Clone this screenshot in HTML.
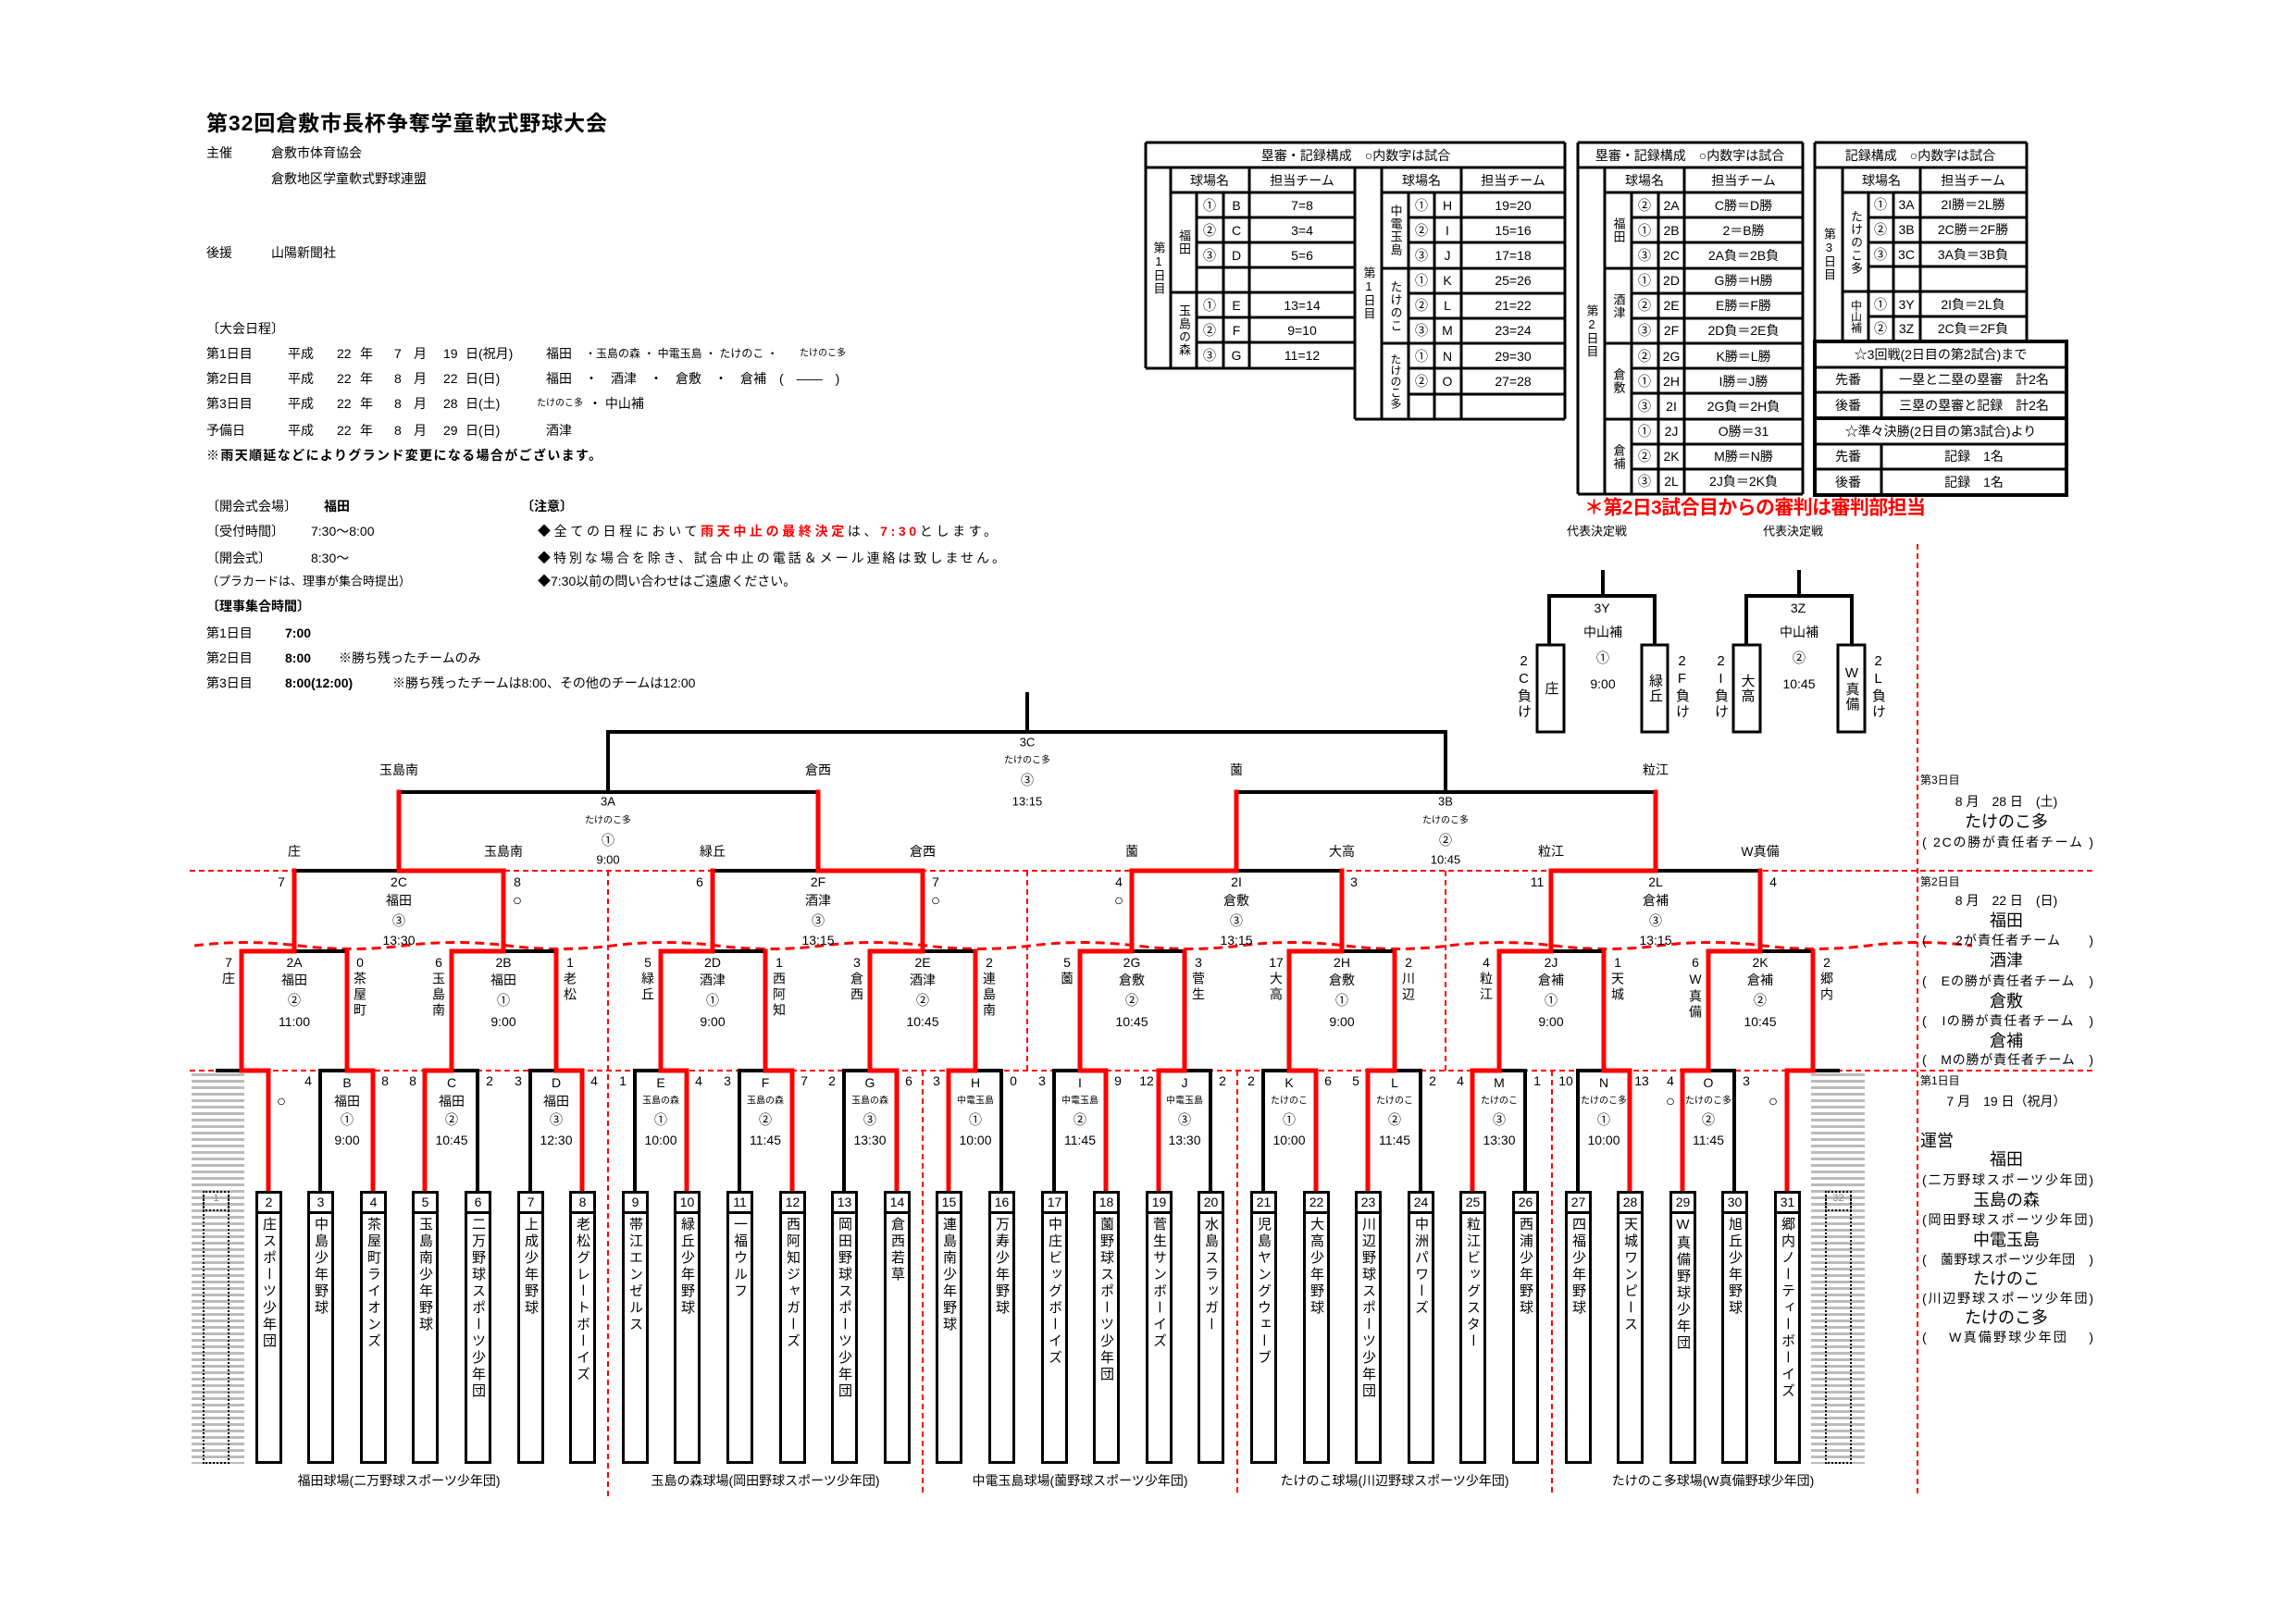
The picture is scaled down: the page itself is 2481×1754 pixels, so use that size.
<!DOCTYPE html>
<html><head><meta charset="utf-8">
<style>
body{margin:0;background:#fff;}
#w{position:relative;width:2481px;height:1754px;overflow:hidden;font-family:"Liberation Sans","Noto Sans CJK JP",sans-serif;color:#000;}
svg{position:absolute;left:0;top:0;}
svg text{font-family:"Liberation Sans","Noto Sans CJK JP",sans-serif;dominant-baseline:central;font-size:14px;}
.m{text-anchor:middle;}
.s10{font-size:10px;}.s12{font-size:12px;}.s13{font-size:13px;}.s15{font-size:17px;}.s17{font-size:18px;}
.b{font-weight:bold;}
.r{fill:#f00;}
.tb{position:absolute;top:1287px;width:29px;height:295px;border:3px solid #000;box-sizing:border-box;background:#fff;}
.tb b{display:block;height:19px;border-bottom:3px solid #000;font-size:14px;line-height:19px;text-align:center;font-weight:normal;}
.tb i{display:block;font-style:normal;writing-mode:vertical-rl;text-orientation:upright;font-size:15px;line-height:23px;letter-spacing:3px;margin:3px auto 0;}
.vl{position:absolute;writing-mode:vertical-rl;text-orientation:upright;font-size:14px;line-height:18px;letter-spacing:3px;}
.vc{position:absolute;display:flex;align-items:center;justify-content:center;}
.vc span{writing-mode:vertical-rl;text-orientation:upright;font-size:13px;line-height:14px;letter-spacing:1px;}
.gc{position:absolute;top:1160px;height:422px;background:repeating-linear-gradient(#bbb 0 3px,#fff 3px 7px);}
.gd{position:absolute;border:2px dotted #000;box-sizing:border-box;}
</style></head><body><div id="w">
<svg width="2481" height="1754" viewBox="0 0 2481 1754">
<text x="223" y="133" class="b" style="font-size:23px" textLength="433">第32回倉敷市長杯争奪学童軟式野球大会</text>
<text x="223" y="165">主催</text><text x="293" y="165">倉敷市体育協会</text>
<text x="293" y="193">倉敷地区学童軟式野球連盟</text>
<text x="223" y="273">後援</text><text x="293" y="273">山陽新聞社</text>
<text x="223" y="355">〔大会日程〕</text>
<g>
<text x="223" y="382">第1日目</text><text x="311" y="382">平成</text><text x="364" y="382">22</text><text x="389" y="382">年</text><text x="426" y="382">7</text><text x="447" y="382">月</text><text x="479" y="382">19</text><text x="503" y="382">日</text><text x="517" y="382">(祝月)</text>
<text x="590" y="382">福田</text><text x="632" y="382" class="s12">・玉島の森 ・ 中電玉島 ・ たけのこ ・</text><text x="864" y="382" class="s10">たけのこ多</text>
<text x="223" y="409">第2日目</text><text x="311" y="409">平成</text><text x="364" y="409">22</text><text x="389" y="409">年</text><text x="426" y="409">8</text><text x="447" y="409">月</text><text x="479" y="409">22</text><text x="503" y="409">日</text><text x="517" y="409">(日)</text>
<text x="590" y="409">福田　・　酒津　・　倉敷　・　倉補　(　――　)</text>
<text x="223" y="436">第3日目</text><text x="311" y="436">平成</text><text x="364" y="436">22</text><text x="389" y="436">年</text><text x="426" y="436">8</text><text x="447" y="436">月</text><text x="479" y="436">28</text><text x="503" y="436">日</text><text x="517" y="436">(土)</text>
<text x="580" y="436" class="s10">たけのこ多</text><text x="636" y="436">・ 中山補</text>
<text x="223" y="465">予備日</text><text x="311" y="465">平成</text><text x="364" y="465">22</text><text x="389" y="465">年</text><text x="426" y="465">8</text><text x="447" y="465">月</text><text x="479" y="465">29</text><text x="503" y="465">日</text><text x="517" y="465">(日)</text>
<text x="590" y="465">酒津</text>
<text x="223" y="492" class="b" textLength="427">※雨天順延などによりグランド変更になる場合がございます。</text>
</g>
<text x="223" y="547">〔開会式会場〕</text><text x="350" y="547" class="b">福田</text>
<text x="563" y="547" class="b">〔注意〕</text>
<text x="223" y="574">〔受付時間〕</text><text x="336" y="574">7:30〜8:00</text>
<text x="581" y="574" textLength="496">◆全ての日程において<tspan class="r b">雨天中止の最終決定</tspan>は、<tspan class="r b">7:30</tspan>とします。</text>
<text x="223" y="603">〔開会式〕</text><text x="336" y="603">8:30〜</text>
<text x="581" y="603" textLength="505">◆特別な場合を除き、試合中止の電話＆メール連絡は致しません。</text>
<text x="223" y="628" class="s13">（プラカードは、理事が集合時提出）</text>
<text x="581" y="628">◆7:30以前の問い合わせはご遠慮ください。</text>
<text x="223" y="655" class="b">〔理事集合時間〕</text>
<text x="223" y="684">第1日目</text><text x="308" y="684" class="b">7:00</text>
<text x="223" y="711">第2日目</text><text x="308" y="711" class="b">8:00</text><text x="366" y="711">※勝ち残ったチームのみ</text>
<text x="223" y="738">第3日目</text><text x="308" y="738" class="b">8:00(12:00)</text><text x="424" y="738">※勝ち残ったチームは8:00、その他のチームは12:00</text>

<g stroke="#000" stroke-width="3" fill="none">
<line x1="1238" y1="154" x2="1691" y2="154"/><line x1="1238" y1="181" x2="1691" y2="181"/>
<line x1="1265" y1="208" x2="1464" y2="208"/><line x1="1493" y1="208" x2="1691" y2="208"/>
<line x1="1293" y1="235" x2="1464" y2="235"/><line x1="1293" y1="262" x2="1464" y2="262"/><line x1="1293" y1="289" x2="1464" y2="289"/>
<line x1="1265" y1="316" x2="1464" y2="316"/><line x1="1293" y1="343" x2="1464" y2="343"/><line x1="1293" y1="370" x2="1464" y2="370"/>
<line x1="1238" y1="398" x2="1464" y2="398"/>
<line x1="1522" y1="235" x2="1691" y2="235"/><line x1="1522" y1="262" x2="1691" y2="262"/><line x1="1493" y1="290" x2="1691" y2="290"/>
<line x1="1522" y1="317" x2="1691" y2="317"/><line x1="1522" y1="344" x2="1691" y2="344"/><line x1="1493" y1="371" x2="1691" y2="371"/>
<line x1="1522" y1="398" x2="1691" y2="398"/><line x1="1522" y1="426" x2="1691" y2="426"/><line x1="1464" y1="453" x2="1691" y2="453"/>
<line x1="1238" y1="154" x2="1238" y2="398"/><line x1="1265" y1="181" x2="1265" y2="398"/><line x1="1293" y1="208" x2="1293" y2="398"/><line x1="1322" y1="208" x2="1322" y2="398"/><line x1="1350" y1="181" x2="1350" y2="398"/>
<line x1="1464" y1="181" x2="1464" y2="453"/><line x1="1493" y1="181" x2="1493" y2="453"/><line x1="1522" y1="208" x2="1522" y2="453"/><line x1="1550" y1="208" x2="1550" y2="453"/><line x1="1579" y1="181" x2="1579" y2="453"/><line x1="1691" y1="154" x2="1691" y2="453"/>
<line x1="1705" y1="154" x2="1948" y2="154"/><line x1="1705" y1="181" x2="1948" y2="181"/><line x1="1734" y1="208" x2="1948" y2="208"/>
<line x1="1763" y1="235" x2="1948" y2="235"/><line x1="1763" y1="262" x2="1948" y2="262"/><line x1="1734" y1="290" x2="1948" y2="290"/>
<line x1="1763" y1="317" x2="1948" y2="317"/><line x1="1763" y1="344" x2="1948" y2="344"/><line x1="1734" y1="371" x2="1948" y2="371"/>
<line x1="1763" y1="398" x2="1948" y2="398"/><line x1="1763" y1="425" x2="1948" y2="425"/><line x1="1734" y1="453" x2="1948" y2="453"/>
<line x1="1763" y1="480" x2="1948" y2="480"/><line x1="1763" y1="507" x2="1948" y2="507"/><line x1="1705" y1="534" x2="1948" y2="534"/>
<line x1="1705" y1="154" x2="1705" y2="534"/><line x1="1734" y1="181" x2="1734" y2="534"/><line x1="1763" y1="208" x2="1763" y2="534"/><line x1="1792" y1="208" x2="1792" y2="534"/><line x1="1820" y1="181" x2="1820" y2="534"/><line x1="1948" y1="154" x2="1948" y2="534"/>
<line x1="1961" y1="154" x2="2190" y2="154"/><line x1="1961" y1="181" x2="2190" y2="181"/><line x1="1991" y1="208" x2="2190" y2="208"/>
<line x1="2019" y1="235" x2="2190" y2="235"/><line x1="2019" y1="262" x2="2190" y2="262"/><line x1="2019" y1="288" x2="2190" y2="288"/>
<line x1="1991" y1="315" x2="2190" y2="315"/><line x1="2019" y1="342" x2="2190" y2="342"/>
<line x1="1961" y1="154" x2="1961" y2="369"/><line x1="1991" y1="181" x2="1991" y2="369"/><line x1="2019" y1="208" x2="2019" y2="369"/><line x1="2046" y1="208" x2="2046" y2="369"/><line x1="2075" y1="181" x2="2075" y2="369"/><line x1="2190" y1="154" x2="2190" y2="369"/>
<rect x="1961" y="369" width="272" height="166" stroke-width="4"/>
<line x1="1961" y1="397" x2="2233" y2="397"/><line x1="1961" y1="424" x2="2233" y2="424"/><line x1="1961" y1="452" x2="2233" y2="452" stroke-width="4"/>
<line x1="1961" y1="480" x2="2233" y2="480"/><line x1="1961" y1="507" x2="2233" y2="507"/>
<line x1="2033" y1="397" x2="2033" y2="452"/><line x1="2033" y1="480" x2="2033" y2="535"/>
</g>
<g class="s13">
<text x="1465" y="168" class="m">塁審・記録構成　○内数字は試合</text>
<text x="1307" y="195" class="m">球場名</text><text x="1407" y="195" class="m">担当チーム</text>
<text x="1536" y="195" class="m">球場名</text><text x="1635" y="195" class="m">担当チーム</text>
<text x="1307" y="222" class="m">①</text><text x="1336" y="222" class="m">B</text><text x="1407" y="222" class="m">7=8</text>
<text x="1307" y="249" class="m">②</text><text x="1336" y="249" class="m">C</text><text x="1407" y="249" class="m">3=4</text>
<text x="1307" y="276" class="m">③</text><text x="1336" y="276" class="m">D</text><text x="1407" y="276" class="m">5=6</text>
<text x="1307" y="330" class="m">①</text><text x="1336" y="330" class="m">E</text><text x="1407" y="330" class="m">13=14</text>
<text x="1307" y="357" class="m">②</text><text x="1336" y="357" class="m">F</text><text x="1407" y="357" class="m">9=10</text>
<text x="1307" y="384" class="m">③</text><text x="1336" y="384" class="m">G</text><text x="1407" y="384" class="m">11=12</text>
<text x="1536" y="222" class="m">①</text><text x="1564" y="222" class="m">H</text><text x="1635" y="222" class="m">19=20</text>
<text x="1536" y="249" class="m">②</text><text x="1564" y="249" class="m">I</text><text x="1635" y="249" class="m">15=16</text>
<text x="1536" y="276" class="m">③</text><text x="1564" y="276" class="m">J</text><text x="1635" y="276" class="m">17=18</text>
<text x="1536" y="303" class="m">①</text><text x="1564" y="303" class="m">K</text><text x="1635" y="303" class="m">25=26</text>
<text x="1536" y="330" class="m">②</text><text x="1564" y="330" class="m">L</text><text x="1635" y="330" class="m">21=22</text>
<text x="1536" y="357" class="m">③</text><text x="1564" y="357" class="m">M</text><text x="1635" y="357" class="m">23=24</text>
<text x="1536" y="385" class="m">①</text><text x="1564" y="385" class="m">N</text><text x="1635" y="385" class="m">29=30</text>
<text x="1536" y="412" class="m">②</text><text x="1564" y="412" class="m">O</text><text x="1635" y="412" class="m">27=28</text>

<text x="1826" y="168" class="m">塁審・記録構成　○内数字は試合</text>
<text x="1777" y="195" class="m">球場名</text><text x="1884" y="195" class="m">担当チーム</text>
<text x="1777" y="222" class="m">②</text><text x="1806" y="222" class="m">2A</text><text x="1884" y="222" class="m">C勝＝D勝</text>
<text x="1777" y="249" class="m">①</text><text x="1806" y="249" class="m">2B</text><text x="1884" y="249" class="m">2＝B勝</text>
<text x="1777" y="276" class="m">③</text><text x="1806" y="276" class="m">2C</text><text x="1884" y="276" class="m">2A負＝2B負</text>
<text x="1777" y="303" class="m">①</text><text x="1806" y="303" class="m">2D</text><text x="1884" y="303" class="m">G勝＝H勝</text>
<text x="1777" y="330" class="m">②</text><text x="1806" y="330" class="m">2E</text><text x="1884" y="330" class="m">E勝＝F勝</text>
<text x="1777" y="357" class="m">③</text><text x="1806" y="357" class="m">2F</text><text x="1884" y="357" class="m">2D負＝2E負</text>
<text x="1777" y="385" class="m">②</text><text x="1806" y="385" class="m">2G</text><text x="1884" y="385" class="m">K勝＝L勝</text>
<text x="1777" y="412" class="m">①</text><text x="1806" y="412" class="m">2H</text><text x="1884" y="412" class="m">I勝＝J勝</text>
<text x="1777" y="439" class="m">③</text><text x="1806" y="439" class="m">2I</text><text x="1884" y="439" class="m">2G負＝2H負</text>
<text x="1777" y="466" class="m">①</text><text x="1806" y="466" class="m">2J</text><text x="1884" y="466" class="m">O勝＝31</text>
<text x="1777" y="493" class="m">②</text><text x="1806" y="493" class="m">2K</text><text x="1884" y="493" class="m">M勝＝N勝</text>
<text x="1777" y="520" class="m">③</text><text x="1806" y="520" class="m">2L</text><text x="1884" y="520" class="m">2J負＝2K負</text>

<text x="2075" y="168" class="m">記録構成　○内数字は試合</text>
<text x="2033" y="195" class="m">球場名</text><text x="2132" y="195" class="m">担当チーム</text>
<text x="2032" y="221" class="m">①</text><text x="2060" y="221" class="m">3A</text><text x="2132" y="221" class="m">2I勝＝2L勝</text>
<text x="2032" y="248" class="m">②</text><text x="2060" y="248" class="m">3B</text><text x="2132" y="248" class="m">2C勝＝2F勝</text>
<text x="2032" y="275" class="m">③</text><text x="2060" y="275" class="m">3C</text><text x="2132" y="275" class="m">3A負＝3B負</text>
<text x="2032" y="329" class="m">①</text><text x="2060" y="329" class="m">3Y</text><text x="2132" y="329" class="m">2I負＝2L負</text>
<text x="2032" y="355" class="m">②</text><text x="2060" y="355" class="m">3Z</text><text x="2132" y="355" class="m">2C負＝2F負</text>
<text x="2097" y="383" class="m">☆3回戦(2日目の第2試合)まで</text>
<text x="1997" y="410" class="m">先番</text><text x="2133" y="410" class="m">一塁と二塁の塁審　計2名</text>
<text x="1997" y="438" class="m">後番</text><text x="2133" y="438" class="m">三塁の塁審と記録　計2名</text>
<text x="2097" y="466" class="m">☆準々決勝(2日目の第3試合)より</text>
<text x="1997" y="493" class="m">先番</text><text x="2133" y="493" class="m">記録　1名</text>
<text x="1997" y="521" class="m">後番</text><text x="2133" y="521" class="m">記録　1名</text>
</g>
<text x="1712" y="549" class="r b" style="font-size:21px" textLength="369">＊第2日3試合目からの審判は審判部担当</text>
<text x="1693" y="574" class="s13">代表決定戦</text><text x="1905" y="574" class="s13">代表決定戦</text>

<g stroke="#000" stroke-width="4" fill="none">
<line x1="1732" y1="616" x2="1732" y2="644"/><path d="M1674 697V644H1788V697"/>
<rect x="1661" y="697" width="29" height="94" stroke-width="3"/><rect x="1774" y="697" width="28" height="94" stroke-width="3"/>
<line x1="1944" y1="616" x2="1944" y2="644"/><path d="M1887 697V644H2001V697"/>
<rect x="1873" y="697" width="29" height="94" stroke-width="3"/><rect x="1986" y="697" width="29" height="94" stroke-width="3"/>
</g>
<g class="s13">
<text x="1731" y="657" class="m">3Y</text><text x="1732" y="683" class="m">中山補</text><text x="1732" y="711" class="m">①</text><text x="1732" y="739" class="m">9:00</text>
<text x="1943" y="657" class="m">3Z</text><text x="1944" y="683" class="m">中山補</text><text x="1944" y="711" class="m">②</text><text x="1944" y="739" class="m">10:45</text>
</g>

<g stroke="#f00" stroke-width="2" stroke-dasharray="6 4" fill="none">
<line x1="205" y1="941" x2="2265" y2="941"/><line x1="205" y1="1157" x2="2265" y2="1157"/>
<line x1="657" y1="941" x2="657" y2="1617"/><line x1="1110" y1="941" x2="1110" y2="1157"/><line x1="1562" y1="941" x2="1562" y2="1157"/>
<line x1="997" y1="1157" x2="997" y2="1617"/><line x1="1337" y1="1157" x2="1337" y2="1617"/><line x1="1677" y1="1157" x2="1677" y2="1617"/>
<line x1="2072" y1="588" x2="2072" y2="1617"/>
<path d="M210 1022 q56 -7 113 0 t113 0 t113 0 t113 0 t113 0 t113 0 t113 0 t113 0 t113 0 t113 0 t113 0 t113 0 t113 0 t113 0 t113 0 t113 0 t113 0" stroke-width="3" stroke-dasharray="10 6"/>
</g>

<g stroke="#000" stroke-width="4" fill="none" stroke-linecap="square">
<line x1="346" y1="1157" x2="346" y2="1287"/><line x1="516" y1="1157" x2="516" y2="1287"/><line x1="573" y1="1157" x2="573" y2="1287"/><line x1="686" y1="1157" x2="686" y2="1287"/><line x1="799" y1="1157" x2="799" y2="1287"/><line x1="912" y1="1157" x2="912" y2="1287"/><line x1="1082" y1="1157" x2="1082" y2="1287"/><line x1="1139" y1="1157" x2="1139" y2="1287"/><line x1="1308" y1="1157" x2="1308" y2="1287"/><line x1="1365" y1="1157" x2="1365" y2="1287"/><line x1="1535" y1="1157" x2="1535" y2="1287"/><line x1="1648" y1="1157" x2="1648" y2="1287"/><line x1="1705" y1="1157" x2="1705" y2="1287"/><line x1="1874" y1="1157" x2="1874" y2="1287"/>
<line x1="346" y1="1157" x2="375" y2="1157"/><line x1="488" y1="1157" x2="516" y2="1157"/><line x1="573" y1="1157" x2="601" y2="1157"/><line x1="686" y1="1157" x2="714" y2="1157"/><line x1="799" y1="1157" x2="827" y2="1157"/><line x1="912" y1="1157" x2="940" y2="1157"/><line x1="1054" y1="1157" x2="1082" y2="1157"/><line x1="1139" y1="1157" x2="1167" y2="1157"/><line x1="1280" y1="1157" x2="1308" y2="1157"/><line x1="1365" y1="1157" x2="1393" y2="1157"/><line x1="1507" y1="1157" x2="1535" y2="1157"/><line x1="1620" y1="1157" x2="1648" y2="1157"/><line x1="1705" y1="1157" x2="1733" y2="1157"/><line x1="1846" y1="1157" x2="1874" y2="1157"/><line x1="235" y1="1157" x2="261" y2="1157"/><line x1="1959" y1="1157" x2="1986" y2="1157"/>
<line x1="318" y1="1028" x2="375" y2="1028"/><line x1="544" y1="1028" x2="601" y2="1028"/><line x1="770" y1="1028" x2="827" y2="1028"/><line x1="997" y1="1028" x2="1054" y2="1028"/><line x1="1223" y1="1028" x2="1280" y2="1028"/><line x1="1450" y1="1028" x2="1507" y2="1028"/><line x1="1676" y1="1028" x2="1733" y2="1028"/><line x1="1902" y1="1028" x2="1959" y2="1028"/>
<line x1="318" y1="941" x2="431" y2="941"/><line x1="770" y1="941" x2="884" y2="941"/><line x1="1336" y1="941" x2="1450" y2="941"/><line x1="1789" y1="941" x2="1902" y2="941"/>
<line x1="431" y1="856" x2="884" y2="856"/><line x1="1336" y1="856" x2="1789" y2="856"/>
<path d="M657 856V791H1562V856"/><line x1="1110" y1="750" x2="1110" y2="791"/>
</g>
<g stroke="#f00" stroke-width="5" fill="none" stroke-linecap="square">
<line x1="290" y1="1157" x2="290" y2="1287"/><line x1="403" y1="1157" x2="403" y2="1287"/><line x1="459" y1="1157" x2="459" y2="1287"/><line x1="629" y1="1157" x2="629" y2="1287"/><line x1="742" y1="1157" x2="742" y2="1287"/><line x1="856" y1="1157" x2="856" y2="1287"/><line x1="969" y1="1157" x2="969" y2="1287"/><line x1="1025" y1="1157" x2="1025" y2="1287"/><line x1="1195" y1="1157" x2="1195" y2="1287"/><line x1="1252" y1="1157" x2="1252" y2="1287"/><line x1="1422" y1="1157" x2="1422" y2="1287"/><line x1="1478" y1="1157" x2="1478" y2="1287"/><line x1="1591" y1="1157" x2="1591" y2="1287"/><line x1="1761" y1="1157" x2="1761" y2="1287"/><line x1="1818" y1="1157" x2="1818" y2="1287"/><line x1="1931" y1="1157" x2="1931" y2="1287"/>
<path d="M261 1028V1157H290"/><path d="M375 1028V1157H403"/><path d="M488 1028V1157H459"/><path d="M601 1028V1157H629"/><path d="M714 1028V1157H742"/><path d="M827 1028V1157H856"/><path d="M940 1028V1157H969"/><path d="M1054 1028V1157H1025"/><path d="M1167 1028V1157H1195"/><path d="M1280 1028V1157H1252"/><path d="M1393 1028V1157H1422"/><path d="M1507 1028V1157H1478"/><path d="M1620 1028V1157H1591"/><path d="M1733 1028V1157H1761"/><path d="M1846 1028V1157H1818"/><path d="M1959 1028V1157H1931"/>
<path d="M318 941V1028H261"/><path d="M544 941V1028H488"/><path d="M770 941V1028H714"/><path d="M997 941V1028H940"/><path d="M1223 941V1028H1167"/><path d="M1450 941V1028H1393"/><path d="M1676 941V1028H1620"/><path d="M1902 941V1028H1846"/>
<path d="M431 856V941H544"/><path d="M884 856V941H997"/><path d="M1336 856V941H1223"/><path d="M1789 856V941H1676"/>
</g>

<g>
<text x="1110" y="802" class="m s13">3C</text><text x="1110" y="822" class="m s10">たけのこ多</text><text x="1110" y="843" class="m">③</text><text x="1110" y="866" class="m s13">13:15</text>
<text x="657" y="866" class="m s13">3A</text><text x="657" y="887" class="m s10">たけのこ多</text><text x="657" y="908" class="m">①</text><text x="657" y="929" class="m s13">9:00</text>
<text x="1562" y="866" class="m s13">3B</text><text x="1562" y="887" class="m s10">たけのこ多</text><text x="1562" y="908" class="m">②</text><text x="1562" y="929" class="m s13">10:45</text>
<text x="431" y="832" class="m">玉島南</text><text x="884" y="832" class="m">倉西</text><text x="1336" y="832" class="m">薗</text><text x="1789" y="832" class="m">粒江</text>
<text x="318" y="920" class="m">庄</text><text x="544" y="920" class="m">玉島南</text><text x="770" y="920" class="m">緑丘</text><text x="997" y="920" class="m">倉西</text><text x="1223" y="920" class="m">薗</text><text x="1450" y="920" class="m">大高</text><text x="1676" y="920" class="m">粒江</text><text x="1902" y="920" class="m">W真備</text>
</g>
<g class="s13">
<text x="431" y="953" class="m">2C</text><text x="431" y="973" class="m">福田</text><text x="431" y="995" class="m">③</text><text x="431" y="1016" class="m">13:30</text>
<text x="884" y="953" class="m">2F</text><text x="884" y="973" class="m">酒津</text><text x="884" y="995" class="m">③</text><text x="884" y="1016" class="m">13:15</text>
<text x="1336" y="953" class="m">2I</text><text x="1336" y="973" class="m">倉敷</text><text x="1336" y="995" class="m">③</text><text x="1336" y="1016" class="m">13:15</text>
<text x="1789" y="953" class="m">2L</text><text x="1789" y="973" class="m">倉補</text><text x="1789" y="995" class="m">③</text><text x="1789" y="1016" class="m">13:15</text>
<text x="304" y="953" class="m">7</text><text x="559" y="953" class="m">8</text><text x="559" y="973" class="m s15">○</text>
<text x="756" y="953" class="m">6</text><text x="1011" y="953" class="m">7</text><text x="1011" y="973" class="m s15">○</text>
<text x="1209" y="953" class="m">4</text><text x="1209" y="973" class="m s15">○</text><text x="1463" y="953" class="m">3</text>
<text x="1661" y="953" class="m">11</text><text x="1916" y="953" class="m">4</text>

<text x="318" y="1040" class="m">2A</text><text x="318" y="1059" class="m">福田</text><text x="318" y="1081" class="m">②</text><text x="318" y="1104" class="m">11:00</text>
<text x="544" y="1040" class="m">2B</text><text x="544" y="1059" class="m">福田</text><text x="544" y="1081" class="m">①</text><text x="544" y="1104" class="m">9:00</text>
<text x="770" y="1040" class="m">2D</text><text x="770" y="1059" class="m">酒津</text><text x="770" y="1081" class="m">①</text><text x="770" y="1104" class="m">9:00</text>
<text x="997" y="1040" class="m">2E</text><text x="997" y="1059" class="m">酒津</text><text x="997" y="1081" class="m">②</text><text x="997" y="1104" class="m">10:45</text>
<text x="1223" y="1040" class="m">2G</text><text x="1223" y="1059" class="m">倉敷</text><text x="1223" y="1081" class="m">②</text><text x="1223" y="1104" class="m">10:45</text>
<text x="1450" y="1040" class="m">2H</text><text x="1450" y="1059" class="m">倉敷</text><text x="1450" y="1081" class="m">①</text><text x="1450" y="1104" class="m">9:00</text>
<text x="1676" y="1040" class="m">2J</text><text x="1676" y="1059" class="m">倉補</text><text x="1676" y="1081" class="m">①</text><text x="1676" y="1104" class="m">9:00</text>
<text x="1902" y="1040" class="m">2K</text><text x="1902" y="1059" class="m">倉補</text><text x="1902" y="1081" class="m">②</text><text x="1902" y="1104" class="m">10:45</text>
<text x="247" y="1040" class="m">7</text><text x="389" y="1040" class="m">0</text><text x="474" y="1040" class="m">6</text><text x="616" y="1040" class="m">1</text>
<text x="700" y="1040" class="m">5</text><text x="842" y="1040" class="m">1</text><text x="926" y="1040" class="m">3</text><text x="1069" y="1040" class="m">2</text>
<text x="1153" y="1040" class="m">5</text><text x="1295" y="1040" class="m">3</text><text x="1379" y="1040" class="m">17</text><text x="1522" y="1040" class="m">2</text>
<text x="1606" y="1040" class="m">4</text><text x="1748" y="1040" class="m">1</text><text x="1832" y="1040" class="m">6</text><text x="1974" y="1040" class="m">2</text>
</g>
<g class="s13">
<text x="375" y="1170" class="m">B</text><text x="375" y="1190" class="m">福田</text><text x="375" y="1210" class="m">①</text><text x="375" y="1232" class="m">9:00</text>
<text x="488" y="1170" class="m">C</text><text x="488" y="1190" class="m">福田</text><text x="488" y="1210" class="m">②</text><text x="488" y="1232" class="m">10:45</text>
<text x="601" y="1170" class="m">D</text><text x="601" y="1190" class="m">福田</text><text x="601" y="1210" class="m">③</text><text x="601" y="1232" class="m">12:30</text>
<text x="714" y="1170" class="m">E</text><text x="714" y="1190" class="m s10">玉島の森</text><text x="714" y="1210" class="m">①</text><text x="714" y="1232" class="m">10:00</text>
<text x="827" y="1170" class="m">F</text><text x="827" y="1190" class="m s10">玉島の森</text><text x="827" y="1210" class="m">②</text><text x="827" y="1232" class="m">11:45</text>
<text x="940" y="1170" class="m">G</text><text x="940" y="1190" class="m s10">玉島の森</text><text x="940" y="1210" class="m">③</text><text x="940" y="1232" class="m">13:30</text>
<text x="1054" y="1170" class="m">H</text><text x="1054" y="1190" class="m s10">中電玉島</text><text x="1054" y="1210" class="m">①</text><text x="1054" y="1232" class="m">10:00</text>
<text x="1167" y="1170" class="m">I</text><text x="1167" y="1190" class="m s10">中電玉島</text><text x="1167" y="1210" class="m">②</text><text x="1167" y="1232" class="m">11:45</text>
<text x="1280" y="1170" class="m">J</text><text x="1280" y="1190" class="m s10">中電玉島</text><text x="1280" y="1210" class="m">③</text><text x="1280" y="1232" class="m">13:30</text>
<text x="1393" y="1170" class="m">K</text><text x="1393" y="1190" class="m s10">たけのこ</text><text x="1393" y="1210" class="m">①</text><text x="1393" y="1232" class="m">10:00</text>
<text x="1507" y="1170" class="m">L</text><text x="1507" y="1190" class="m s10">たけのこ</text><text x="1507" y="1210" class="m">②</text><text x="1507" y="1232" class="m">11:45</text>
<text x="1620" y="1170" class="m">M</text><text x="1620" y="1190" class="m s10">たけのこ</text><text x="1620" y="1210" class="m">③</text><text x="1620" y="1232" class="m">13:30</text>
<text x="1733" y="1170" class="m">N</text><text x="1733" y="1190" class="m s10">たけのこ多</text><text x="1733" y="1210" class="m">①</text><text x="1733" y="1232" class="m">10:00</text>
<text x="1846" y="1170" class="m">O</text><text x="1846" y="1190" class="m s10">たけのこ多</text><text x="1846" y="1210" class="m">②</text><text x="1846" y="1232" class="m">11:45</text>
<text x="333" y="1168" class="m">4</text><text x="416" y="1168" class="m">8</text><text x="446" y="1168" class="m">8</text><text x="529" y="1168" class="m">2</text>
<text x="560" y="1168" class="m">3</text><text x="642" y="1168" class="m">4</text><text x="673" y="1168" class="m">1</text><text x="755" y="1168" class="m">4</text>
<text x="786" y="1168" class="m">3</text><text x="869" y="1168" class="m">7</text><text x="899" y="1168" class="m">2</text><text x="982" y="1168" class="m">6</text>
<text x="1012" y="1168" class="m">3</text><text x="1095" y="1168" class="m">0</text><text x="1126" y="1168" class="m">3</text><text x="1208" y="1168" class="m">9</text>
<text x="1239" y="1168" class="m">12</text><text x="1321" y="1168" class="m">2</text><text x="1352" y="1168" class="m">2</text><text x="1435" y="1168" class="m">6</text>
<text x="1465" y="1168" class="m">5</text><text x="1548" y="1168" class="m">2</text><text x="1578" y="1168" class="m">4</text><text x="1661" y="1168" class="m">1</text>
<text x="1692" y="1168" class="m">10</text><text x="1774" y="1168" class="m">13</text><text x="1805" y="1168" class="m">4</text><text x="1887" y="1168" class="m">3</text>
<text x="304" y="1190" class="m s15">○</text><text x="1805" y="1190" class="m s15">○</text><text x="1916" y="1190" class="m s15">○</text>
</g>
<g class="s13">
<text x="431" y="1600" class="m">福田球場(二万野球スポーツ少年団)</text>
<text x="827" y="1600" class="m">玉島の森球場(岡田野球スポーツ少年団)</text>
<text x="1167" y="1600" class="m">中電玉島球場(薗野球スポーツ少年団)</text>
<text x="1507" y="1600" class="m">たけのこ球場(川辺野球スポーツ少年団)</text>
<text x="1851" y="1600" class="m">たけのこ多球場(W真備野球少年団)</text>
</g>
<g class="s13">
<text x="2075" y="843" class="s12">第3日目</text>
<text x="2168" y="866" class="m">8 月　28 日　(土)</text>
<text x="2168" y="888" class="m s17">たけのこ多</text>
<text x="2077" y="910" textLength="185">( 2Cの勝が責任者チーム )</text>
<text x="2075" y="953" class="s12">第2日目</text>
<text x="2168" y="973" class="m">8 月　22 日　(日)</text>
<text x="2168" y="995" class="m s17">福田</text>
<text x="2077" y="1016" textLength="185">(　　2が責任者チーム　　)</text>
<text x="2168" y="1038" class="m s17">酒津</text>
<text x="2077" y="1060" textLength="185">(　Eの勝が責任者チーム　)</text>
<text x="2168" y="1082" class="m s17">倉敷</text>
<text x="2077" y="1103" textLength="185">(　Iの勝が責任者チーム　)</text>
<text x="2168" y="1125" class="m s17">倉補</text>
<text x="2077" y="1145" textLength="185">(　Mの勝が責任者チーム　)</text>
<text x="2075" y="1168" class="s12">第1日目</text>
<text x="2168" y="1190" class="m">7 月　19 日（祝月）</text>
<text x="2075" y="1233" class="s17">運営</text>
<text x="2168" y="1253" class="m s17">福田</text>
<text x="2077" y="1275" textLength="185">(二万野球スポーツ少年団)</text>
<text x="2168" y="1297" class="m s17">玉島の森</text>
<text x="2077" y="1318" textLength="185">(岡田野球スポーツ少年団)</text>
<text x="2168" y="1340" class="m s17">中電玉島</text>
<text x="2077" y="1361" textLength="185">(　薗野球スポーツ少年団　)</text>
<text x="2168" y="1382" class="m s17">たけのこ</text>
<text x="2077" y="1403" textLength="185">(川辺野球スポーツ少年団)</text>
<text x="2168" y="1424" class="m s17">たけのこ多</text>
<text x="2077" y="1445" textLength="185">(　 W真備野球少年団　 )</text>
</g>
</svg>

<div class="vc" style="left:1238px;top:181px;width:27px;height:217px"><span>第1日目</span></div>
<div class="vc" style="left:1265px;top:208px;width:28px;height:108px"><span>福田</span></div>
<div class="vc" style="left:1265px;top:316px;width:28px;height:82px"><span>玉島の森</span></div>
<div class="vc" style="left:1464px;top:181px;width:29px;height:272px"><span>第1日目</span></div>
<div class="vc" style="left:1493px;top:208px;width:29px;height:82px"><span>中電玉島</span></div>
<div class="vc" style="left:1493px;top:290px;width:29px;height:81px"><span>たけのこ</span></div>
<div class="vc" style="left:1493px;top:371px;width:29px;height:82px"><span style="font-size:12px;line-height:13px;letter-spacing:0">たけのこ多</span></div>
<div class="vc" style="left:1705px;top:181px;width:29px;height:353px"><span>第2日目</span></div>
<div class="vc" style="left:1734px;top:208px;width:29px;height:82px"><span>福田</span></div>
<div class="vc" style="left:1734px;top:290px;width:29px;height:81px"><span>酒津</span></div>
<div class="vc" style="left:1734px;top:371px;width:29px;height:82px"><span>倉敷</span></div>
<div class="vc" style="left:1734px;top:453px;width:29px;height:81px"><span>倉補</span></div>
<div class="vc" style="left:1961px;top:181px;width:30px;height:188px"><span>第3日目</span></div>
<div class="vc" style="left:1991px;top:208px;width:28px;height:107px"><span>たけのこ多</span></div>
<div class="vc" style="left:1991px;top:315px;width:28px;height:54px"><span style="font-size:12px;line-height:13px;letter-spacing:0">中山補</span></div>

<div class="vc" style="left:1661px;top:697px;width:29px;height:94px"><span style="font-size:15px">庄</span></div>
<div class="vc" style="left:1774px;top:697px;width:28px;height:94px"><span style="font-size:15px">緑丘</span></div>
<div class="vc" style="left:1873px;top:697px;width:29px;height:94px"><span style="font-size:15px">大高</span></div>
<div class="vc" style="left:1986px;top:697px;width:29px;height:94px"><span style="font-size:15px">W真備</span></div>
<div class="vl" style="left:1637px;top:706px;font-size:15px;letter-spacing:2px">2C負け</div>
<div class="vl" style="left:1808px;top:706px;font-size:15px;letter-spacing:2px">2F負け</div>
<div class="vl" style="left:1850px;top:706px;font-size:15px;letter-spacing:2px">2I負け</div>
<div class="vl" style="left:2020px;top:706px;font-size:15px;letter-spacing:2px">2L負け</div>

<div class="vl" style="left:238px;top:1050px">庄</div>
<div class="vl" style="left:380px;top:1050px">茶屋町</div>
<div class="vl" style="left:465px;top:1050px">玉島南</div>
<div class="vl" style="left:607px;top:1050px">老松</div>
<div class="vl" style="left:691px;top:1050px">緑丘</div>
<div class="vl" style="left:833px;top:1050px">西阿知</div>
<div class="vl" style="left:917px;top:1050px">倉西</div>
<div class="vl" style="left:1060px;top:1050px">連島南</div>
<div class="vl" style="left:1144px;top:1050px">薗</div>
<div class="vl" style="left:1286px;top:1050px">菅生</div>
<div class="vl" style="left:1370px;top:1050px">大高</div>
<div class="vl" style="left:1513px;top:1050px">川辺</div>
<div class="vl" style="left:1597px;top:1050px">粒江</div>
<div class="vl" style="left:1739px;top:1050px">天城</div>
<div class="vl" style="left:1823px;top:1050px">W真備</div>
<div class="vl" style="left:1965px;top:1050px">郷内</div>

<div class="gc" style="left:207px;width:57px"></div>
<div class="gd" style="left:219px;top:1287px;width:29px;height:295px"></div>
<div class="gd" style="left:219px;top:1287px;width:29px;height:22px;font-size:11px;text-align:center;color:#888">1</div>
<div class="gc" style="left:1957px;width:58px"></div>
<div class="gd" style="left:1972px;top:1287px;width:29px;height:295px"></div>
<div class="gd" style="left:1972px;top:1287px;width:29px;height:22px;font-size:11px;text-align:center;color:#888">32</div>

<div class="tb" style="left:276px"><b>2</b><i>庄スポーツ少年団</i></div>
<div class="tb" style="left:332px"><b>3</b><i>中島少年野球</i></div>
<div class="tb" style="left:389px"><b>4</b><i>茶屋町ライオンズ</i></div>
<div class="tb" style="left:445px"><b>5</b><i>玉島南少年野球</i></div>
<div class="tb" style="left:502px"><b>6</b><i>二万野球スポーツ少年団</i></div>
<div class="tb" style="left:559px"><b>7</b><i>上成少年野球</i></div>
<div class="tb" style="left:615px"><b>8</b><i>老松グレートボーイズ</i></div>
<div class="tb" style="left:672px"><b>9</b><i>帯江エンゼルス</i></div>
<div class="tb" style="left:728px"><b>10</b><i>緑丘少年野球</i></div>
<div class="tb" style="left:785px"><b>11</b><i>一福ウルフ</i></div>
<div class="tb" style="left:842px"><b>12</b><i>西阿知ジャガーズ</i></div>
<div class="tb" style="left:898px"><b>13</b><i>岡田野球スポーツ少年団</i></div>
<div class="tb" style="left:955px"><b>14</b><i>倉西若草</i></div>
<div class="tb" style="left:1011px"><b>15</b><i>連島南少年野球</i></div>
<div class="tb" style="left:1068px"><b>16</b><i>万寿少年野球</i></div>
<div class="tb" style="left:1125px"><b>17</b><i>中庄ビッグボーイズ</i></div>
<div class="tb" style="left:1181px"><b>18</b><i>薗野球スポーツ少年団</i></div>
<div class="tb" style="left:1238px"><b>19</b><i>菅生サンボーイズ</i></div>
<div class="tb" style="left:1294px"><b>20</b><i>水島スラッガー</i></div>
<div class="tb" style="left:1351px"><b>21</b><i>児島ヤングウェーブ</i></div>
<div class="tb" style="left:1408px"><b>22</b><i>大高少年野球</i></div>
<div class="tb" style="left:1464px"><b>23</b><i>川辺野球スポーツ少年団</i></div>
<div class="tb" style="left:1521px"><b>24</b><i>中洲パワーズ</i></div>
<div class="tb" style="left:1577px"><b>25</b><i>粒江ビッグスター</i></div>
<div class="tb" style="left:1634px"><b>26</b><i>西浦少年野球</i></div>
<div class="tb" style="left:1691px"><b>27</b><i>四福少年野球</i></div>
<div class="tb" style="left:1747px"><b>28</b><i>天城ワンピース</i></div>
<div class="tb" style="left:1804px"><b>29</b><i>W真備野球少年団</i></div>
<div class="tb" style="left:1860px"><b>30</b><i>旭丘少年野球</i></div>
<div class="tb" style="left:1917px"><b>31</b><i>郷内ノーティーボーイズ</i></div>
</div></body></html>
